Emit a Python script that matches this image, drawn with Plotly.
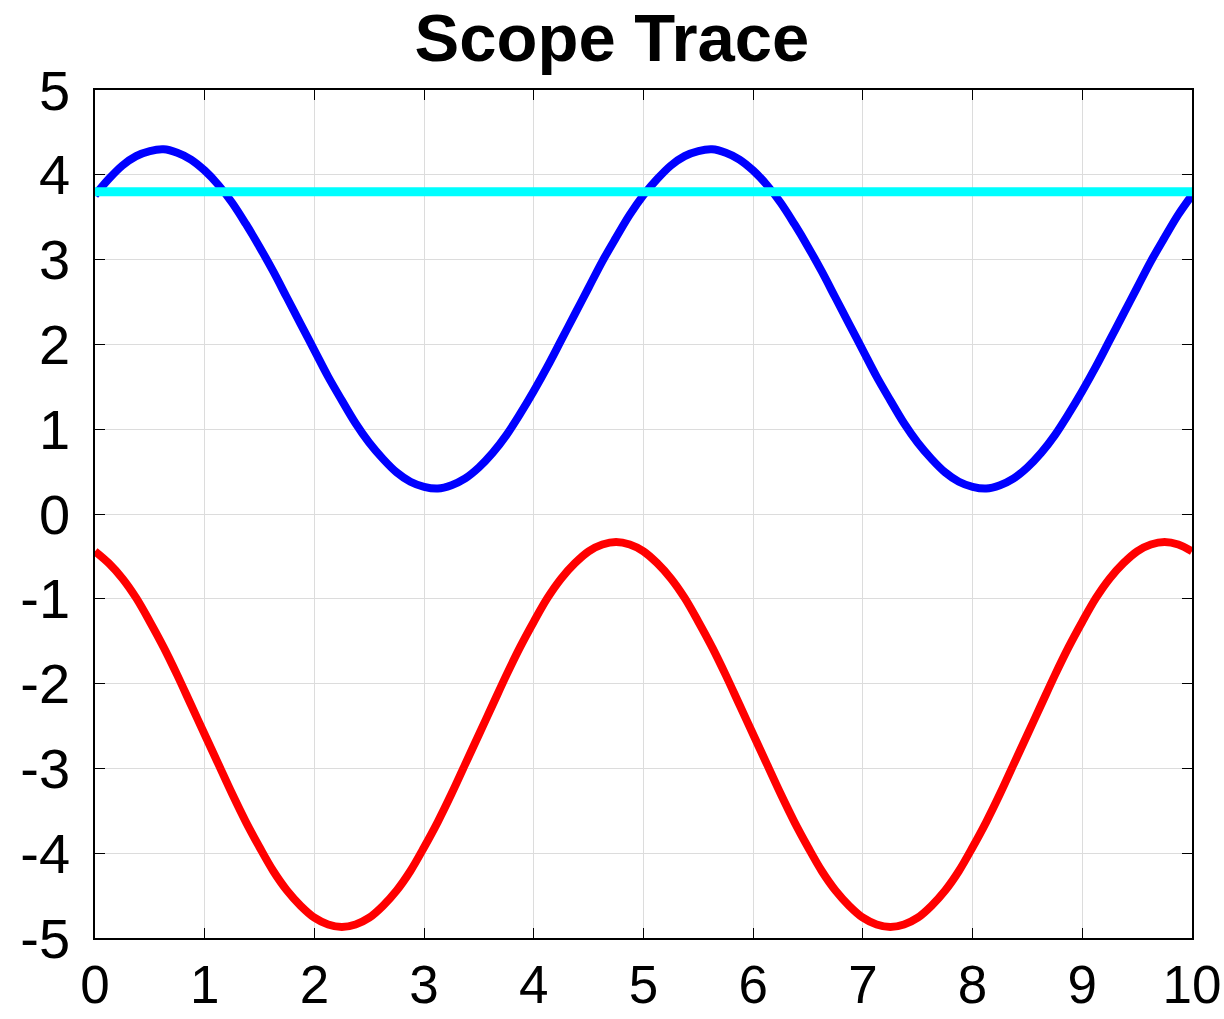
import plotly.graph_objects as go

# Sample times (s), 0.125 s apart
t = [i * 0.125 for i in range(81)]

# Channel A (blue) readings
ch_a_period = [3.76, 3.95, 4.11, 4.22, 4.28, 4.30, 4.26, 4.18, 4.05, 3.88,
               3.67, 3.42, 3.15, 2.86, 2.55, 2.24, 1.93, 1.62, 1.34, 1.07,
               0.84, 0.65, 0.49, 0.38, 0.32, 0.30, 0.34, 0.42, 0.55, 0.72,
               0.93, 1.18, 1.45, 1.74, 2.05, 2.36, 2.67, 2.98, 3.26, 3.53]
ch_a = ch_a_period + ch_a_period + [3.76]

# Channel B (red) readings
ch_b_period = [-0.44, -0.58, -0.76, -0.99, -1.27, -1.57, -1.90, -2.25, -2.60, -2.95,
               -3.30, -3.63, -3.93, -4.21, -4.44, -4.62, -4.76, -4.84, -4.87, -4.84,
               -4.76, -4.62, -4.44, -4.21, -3.93, -3.63, -3.30, -2.95, -2.60, -2.25,
               -1.90, -1.57, -1.27, -0.99, -0.76, -0.58, -0.44, -0.36, -0.33, -0.36]
ch_b = ch_b_period + ch_b_period + [-0.44]

# Trigger level (cyan)
level_t = [0, 10]
level_v = [3.8, 3.8]

x_ticks = list(range(0, 11))
y_ticks = list(range(-5, 6))
x_labels = [str(v) for v in x_ticks]
y_labels = [str(v) for v in y_ticks]

fig = go.Figure()
fig.add_trace(go.Scatter(x=t, y=ch_a, mode="lines", line=dict(color="#0000ff", width=8, shape="spline")))
fig.add_trace(go.Scatter(x=t, y=ch_b, mode="lines", line=dict(color="#ff0000", width=8, shape="spline")))
fig.add_trace(go.Scatter(x=level_t, y=level_v, mode="lines", line=dict(color="#00ffff", width=9)))

axis_common = dict(
    showgrid=True, gridcolor="#dcdcdc", gridwidth=1,
    zeroline=False, showline=True, linecolor="black", linewidth=1.5,
    mirror="allticks", ticks="inside", ticklen=10, tickwidth=1.2, tickcolor="black",
    automargin=False,
)
tick_font = dict(family="Liberation Sans, Arial, sans-serif", size=56, color="black")

fig.update_layout(
    width=1224, height=1019,
    margin=dict(l=95, r=32, t=90, b=81),
    paper_bgcolor="white", plot_bgcolor="white",
    showlegend=False,
    title=dict(text="<b>Scope Trace</b>", x=0.5, xanchor="center", y=0.963, yanchor="middle",
               font=dict(family="Liberation Sans, Arial, sans-serif", size=67, color="black")),
    xaxis=dict(range=[0, 10], tickvals=x_ticks, ticktext=x_labels, ticklabelstandoff=0,
               tickfont=dict(tick_font, size=53), **axis_common),
    yaxis=dict(range=[-5, 5], tickvals=y_ticks, ticktext=y_labels, ticklabelstandoff=12,
               tickfont=tick_font, **axis_common),
)

fig.write_html("out.html")
